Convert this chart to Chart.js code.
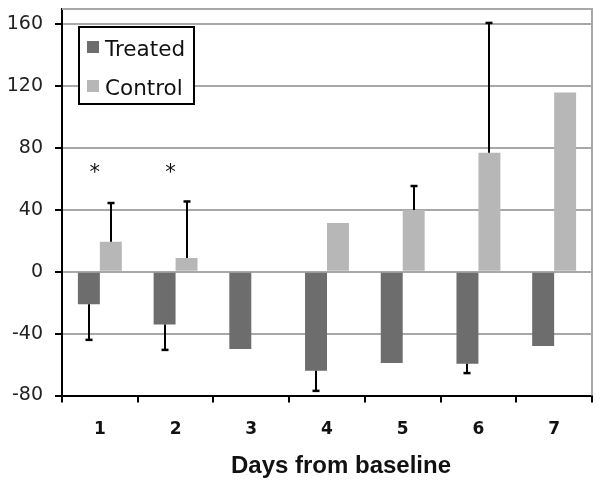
<!DOCTYPE html>
<html>
<head>
<meta charset="utf-8">
<script src="https://cdn.jsdelivr.net/npm/chart.js@4/dist/chart.umd.min.js"></script>
<style>
  html, body { margin: 0; padding: 0; background: #fff; }
  canvas { display: block; }
</style>
</head>
<body>
<canvas id="c" width="602" height="487"></canvas>
<script>
// ---- data ----
const days = ['1', '2', '3', '4', '5', '6', '7'];
const treated = [-21, -34, -50, -64, -59, -59.5, -48];
const treatedErr = [23, 16.5, null, 13, null, 6, null];     // downward error
const control = [19.5, 9, null, 31.5, 40, 77, 116];
const controlErr = [25, 36.5, null, null, 15.5, 84, null];  // upward error
const asterisks = [67, 67, null, null, null, null, null];   // significance marks
const yTicks = [-80, -40, 0, 40, 80, 120, 160];
const seriesNames = ['Treated', 'Control'];
const xTitle = 'Days from baseline';

const COL_T = '#6d6d6d';
const COL_C = '#b7b7b7';
const GRID = '#a8a8a8';

const errorBarPlugin = {
  id: 'errorBars',
  afterDatasetsDraw(chart) {
    const ctx = chart.ctx;
    const y = chart.scales.y;
    const errs = [treatedErr, controlErr];
    const dirs = [-1, 1];
    ctx.save();
    ctx.strokeStyle = '#000';
    errs.forEach((arr, di) => {
      const meta = chart.getDatasetMeta(di);
      arr.forEach((e, i) => {
        if (e == null) return;
        const bar = meta.data[i];
        const v = chart.data.datasets[di].data[i];
        const x = Math.round(bar.x);
        const y0 = y.getPixelForValue(v);
        const y1 = y.getPixelForValue(v + dirs[di] * e);
        ctx.lineWidth = 2;
        ctx.beginPath();
        ctx.moveTo(x, y0);
        ctx.lineTo(x, y1);
        ctx.stroke();
        ctx.lineWidth = 2.5;
        ctx.beginPath();
        ctx.moveTo(x - 3.5, y1);
        ctx.lineTo(x + 3.5, y1);
        ctx.stroke();
      });
    });
    // asterisks
    ctx.fillStyle = '#111';
    ctx.font = '21px "DejaVu Sans"';
    ctx.textAlign = 'center';
    ctx.textBaseline = 'alphabetic';
    const xs = chart.scales.x;
    asterisks.forEach((v, i) => {
      if (v == null) return;
      const px = xs.getPixelForValue(i) - 5;
      const py = y.getPixelForValue(v);
      ctx.fillText('*', px, py + 11);
    });
    ctx.restore();
  },
  afterDraw(chart) {
    const ctx = chart.ctx;
    const a = chart.chartArea;
    ctx.save();
    // top and right frame
    ctx.strokeStyle = GRID;
    ctx.lineWidth = 2;
    ctx.beginPath();
    ctx.moveTo(a.left, a.top);
    ctx.lineTo(a.right, a.top);
    ctx.lineTo(a.right, a.bottom);
    ctx.stroke();
    // legend
    const lx = 79, ly = 27, lw = 115, lh = 77;
    ctx.fillStyle = '#fff';
    ctx.fillRect(lx, ly, lw, lh);
    ctx.strokeStyle = '#000';
    ctx.lineWidth = 2;
    ctx.strokeRect(lx, ly, lw, lh);
    const cols = [COL_T, COL_C];
    const sqY = [41, 80];
    const baseY = [56, 95];
    ctx.font = '21.5px "DejaVu Sans"';
    ctx.textAlign = 'left';
    ctx.textBaseline = 'alphabetic';
    seriesNames.forEach((n, i) => {
      ctx.fillStyle = cols[i];
      ctx.fillRect(87, sqY[i], 12, 12);
      ctx.fillStyle = '#111';
      ctx.fillText(n, 105, baseY[i]);
    });
    // x axis title
    ctx.font = 'bold 24px "Liberation Sans", Arial, sans-serif';
    ctx.textAlign = 'center';
    ctx.fillStyle = '#111';
    ctx.fillText(xTitle, (a.left + a.right) / 2 + 14, 473);
    ctx.restore();
  }
};

new Chart(document.getElementById('c'), {
  type: 'bar',
  data: {
    labels: days,
    datasets: [
      { label: seriesNames[0], data: treated, backgroundColor: COL_T, borderWidth: 0 },
      { label: seriesNames[1], data: control, backgroundColor: COL_C, borderWidth: 0 }
    ]
  },
  options: {
    responsive: false,
    animation: false,
    devicePixelRatio: 1,
    layout: { padding: { top: 9, right: 10, left: 0, bottom: 0 } },
    categoryPercentage: 0.58,
    barPercentage: 1.0,
    plugins: {
      legend: { display: false },
      tooltip: { enabled: false },
      title: { display: false }
    },
    scales: {
      x: {
        grid: {
          display: true,
          drawOnChartArea: false,
          drawTicks: true,
          tickLength: 7,
          tickColor: '#000',
          lineWidth: 2,
          offset: true
        },
        border: { color: '#000', width: 2 },
        ticks: {
          color: '#111',
          font: { family: '"DejaVu Sans"', size: 17, weight: 'bold' },
          padding: 17,
          maxRotation: 0
        },
        afterFit(s) { s.height = 91.5; s.paddingLeft = 0; s.paddingRight = 0; }
      },
      y: {
        min: -80,
        max: 170,
        afterBuildTicks(s) { s.ticks = yTicks.map(v => ({ value: v })); },
        grid: {
          color: GRID,
          lineWidth: 2,
          drawTicks: true,
          tickLength: 7,
          tickColor: '#000'
        },
        border: { color: '#000', width: 2 },
        ticks: {
          color: '#222',
          font: { family: '"DejaVu Sans"', size: 19 },
          padding: 12
        },
        afterFit(s) { s.width = 62; s.paddingTop = 0; s.paddingBottom = 0; }
      }
    }
  },
  plugins: [errorBarPlugin]
});
</script>
</body>
</html>
